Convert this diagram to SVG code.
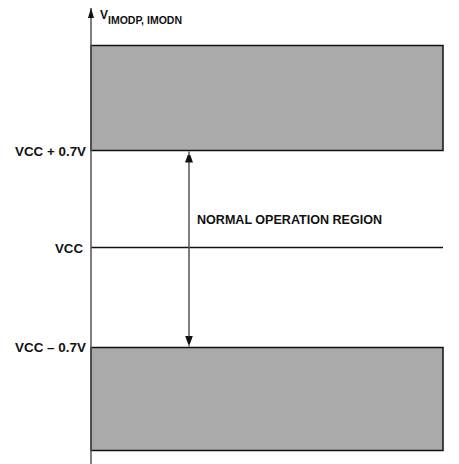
<svg xmlns="http://www.w3.org/2000/svg" width="459" height="464" viewBox="0 0 459 464">
<style>
.lbl{font-family:"Liberation Sans",Arial,sans-serif;font-weight:bold;font-size:12.5px;fill:#111}
.band{fill:#aaaaaa;stroke:#111;stroke-width:1.5}
.ax{stroke:#555;stroke-width:1.5;fill:none}
</style>
<defs>
<marker id="ah" markerWidth="8" markerHeight="11" refX="11" refY="4" orient="auto" markerUnits="userSpaceOnUse">
<path d="M0,0 L11,4 L0,8 Z" fill="#111"/>
</marker>
<marker id="axh" markerWidth="10" markerHeight="6" refX="10" refY="3" orient="auto" markerUnits="userSpaceOnUse">
<path d="M0,0 L10,3 L0,6 Z" fill="#111"/>
</marker>
</defs>
<g id="upper-band"><rect class="band" x="91" y="45.5" width="352" height="105"/></g>
<g id="lower-band"><rect class="band" x="91" y="347.5" width="352" height="103"/></g>
<g id="vcc-line"><line x1="91" y1="247.5" x2="443" y2="247.5" stroke="#111" stroke-width="1.5"/></g>
<g id="axis">
<line class="ax" x1="91" y1="464" x2="91" y2="8" marker-end="url(#axh)"/>
<text class="lbl" x="100" y="18.5" style="font-size:12px">V<tspan style="font-size:10px" dy="5.5" textLength="74" lengthAdjust="spacingAndGlyphs">IMODP, IMODN</tspan></text>
</g>
<g id="labels">
<text class="lbl" x="86" y="156" text-anchor="end" textLength="71" lengthAdjust="spacingAndGlyphs">VCC + 0.7V</text>
<text class="lbl" x="83" y="252.5" text-anchor="end" textLength="28" lengthAdjust="spacingAndGlyphs">VCC</text>
<text class="lbl" x="86" y="352" text-anchor="end" textLength="71" lengthAdjust="spacingAndGlyphs">VCC – 0.7V</text>
<text class="lbl" x="197" y="224" style="font-size:12px" textLength="185" lengthAdjust="spacingAndGlyphs">NORMAL OPERATION REGION</text>
</g>
<g id="connectors">
<line x1="189" y1="249" x2="189" y2="151.5" stroke="#555" stroke-width="1.5" marker-end="url(#ah)"/>
<line x1="189" y1="249" x2="189" y2="346.5" stroke="#555" stroke-width="1.5" marker-end="url(#ah)"/>
</g>
</svg>
